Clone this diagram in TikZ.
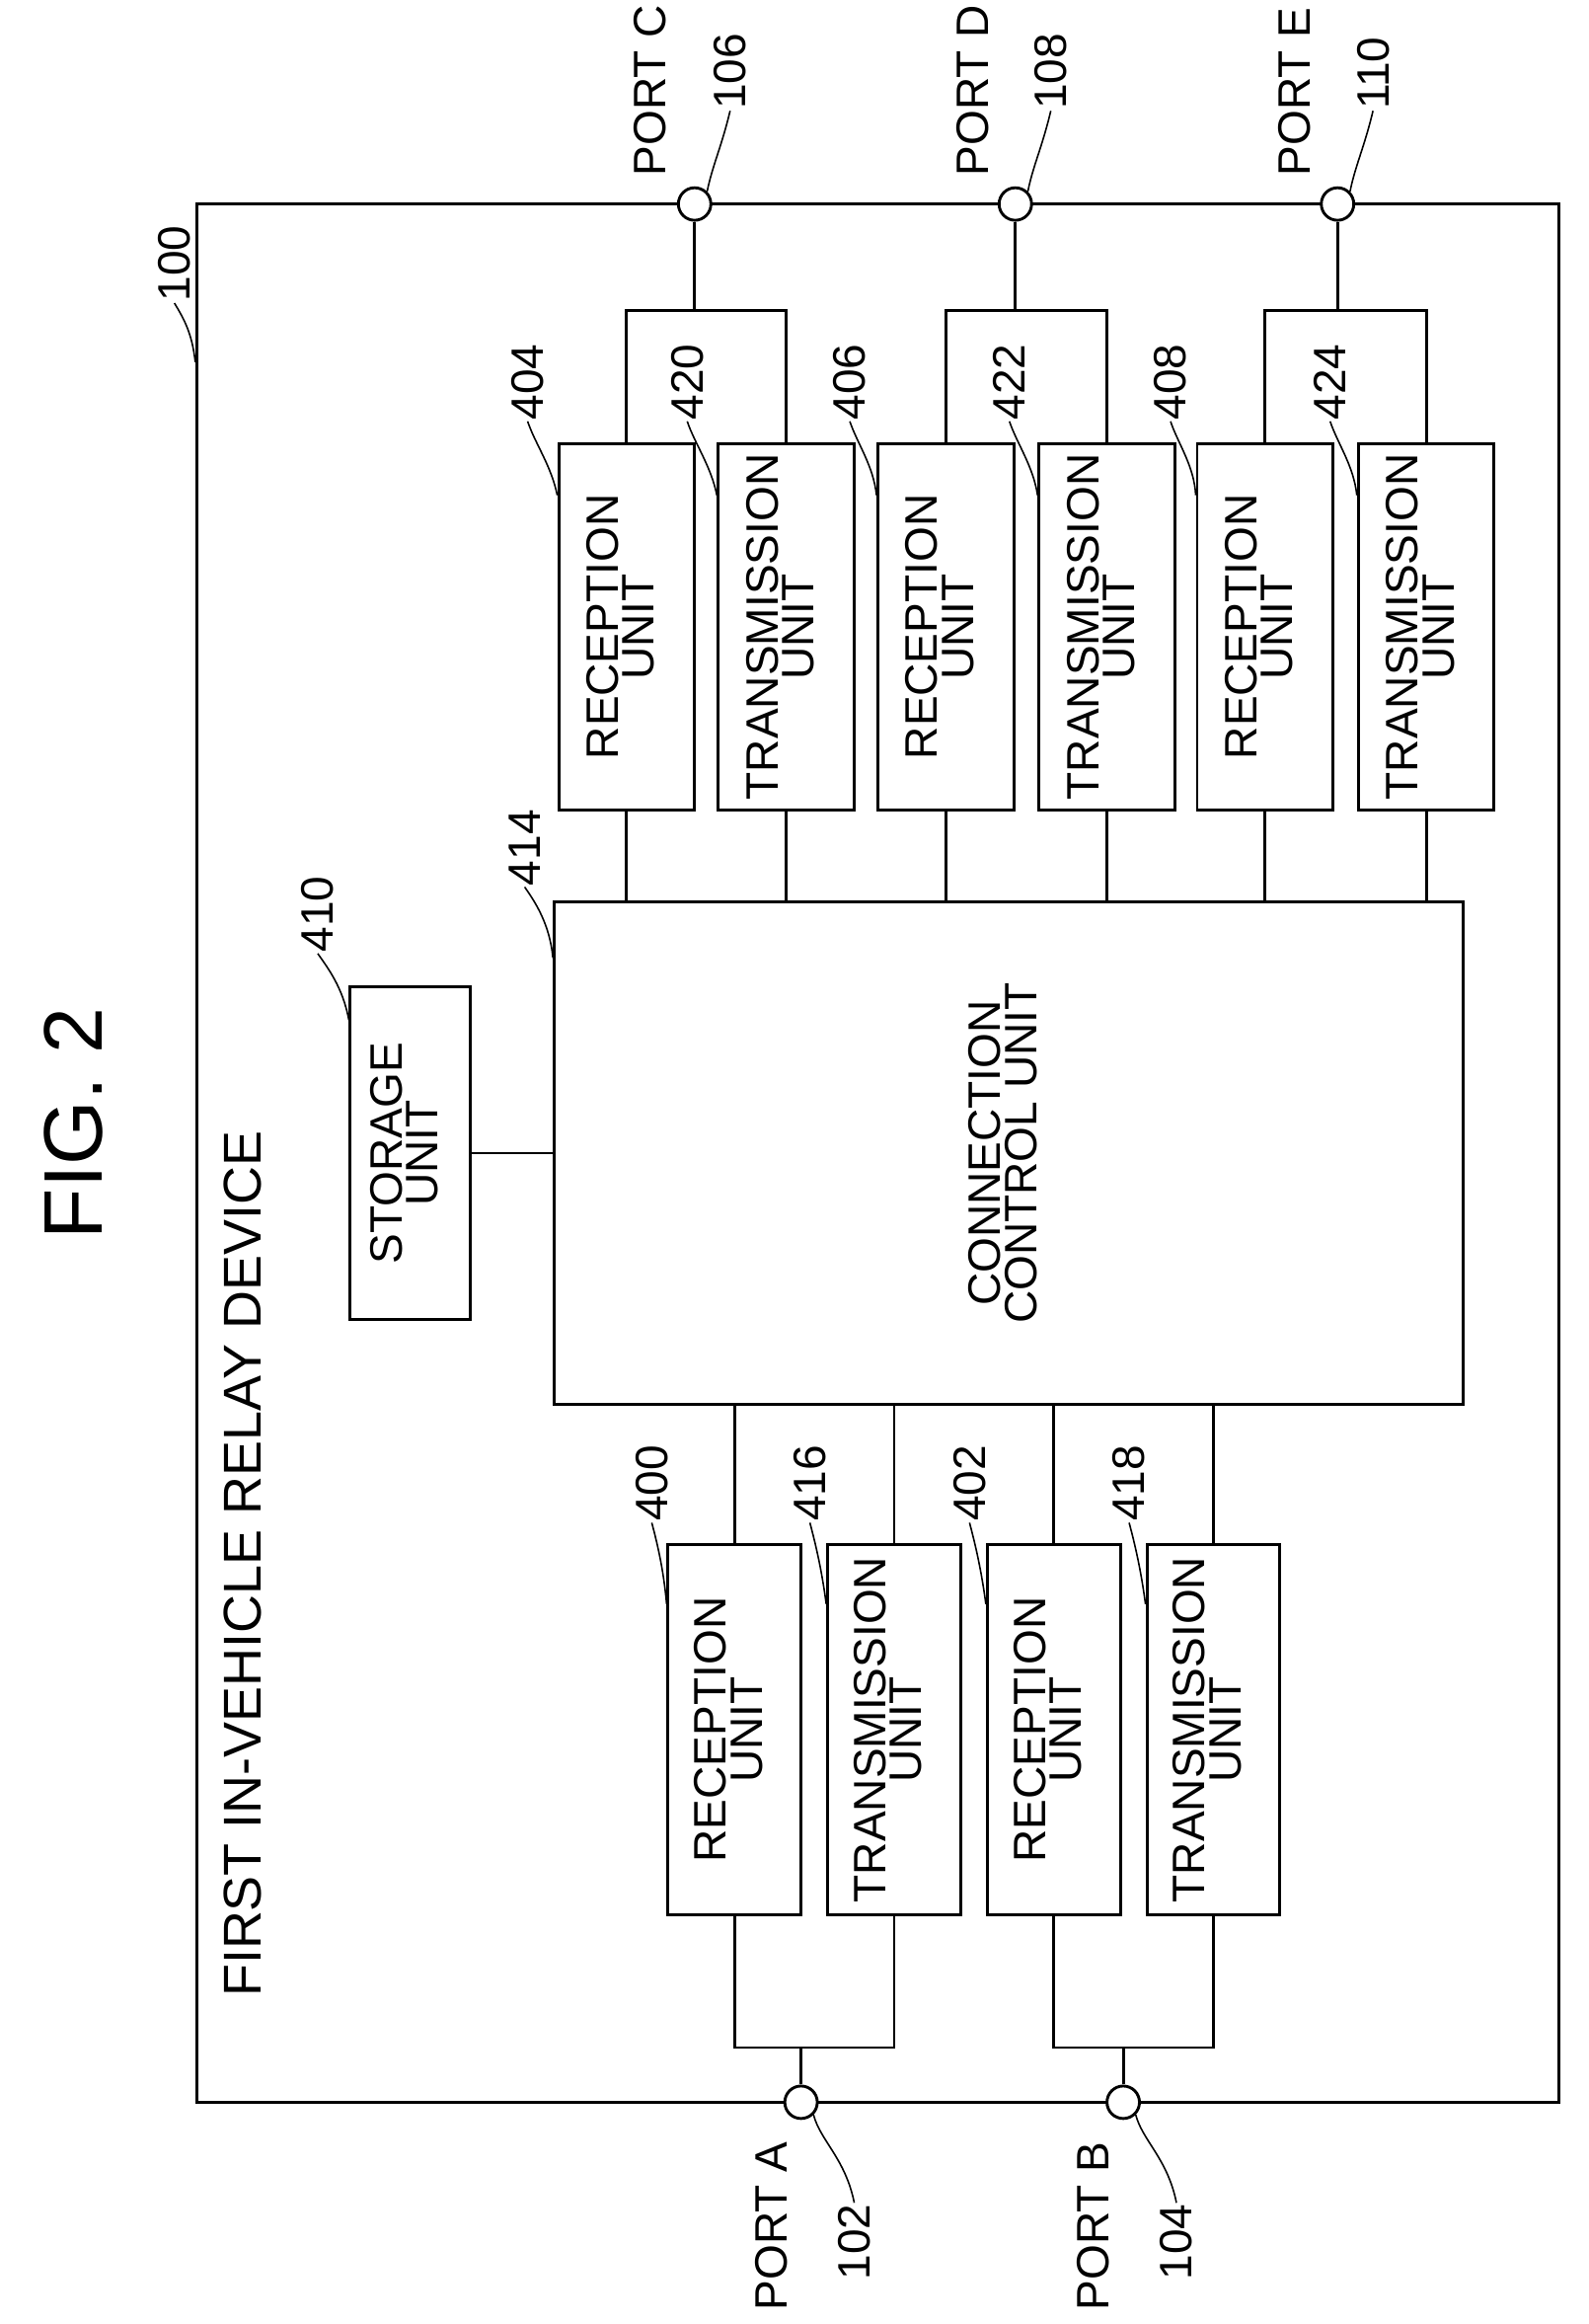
\documentclass[tikz,border=0pt]{standalone}
\usepackage{fontspec}
\setmainfont{Liberation Sans}
\usetikzlibrary{positioning}
\newcommand{\vlab}[2]{\rotatebox{90}{\begin{tabular}{@{}c@{}}#1\\[-3pt]#2\end{tabular}}}
\newcommand{\vnum}[1]{\rotatebox{90}{#1}}
\begin{document}
\begin{tikzpicture}[x=0.02cm,y=-0.02cm,line width=1.1pt,
  font=\fontsize{17.5}{16}\selectfont,
  unit/.style={draw,minimum width=1.84cm,minimum height=4.96cm,inner sep=0pt},
  lunit/.style={draw,minimum width=1.8cm,minimum height=5cm,inner sep=0pt},
  port/.style={draw,circle,fill=white,minimum size=0.44cm,inner sep=0pt},
  refnum/.style={inner sep=0pt,anchor=south},
  leader/.style={line width=0.6pt}]
\useasboundingbox (0,0) rectangle (1075,1572);
% device frame
\node[draw,minimum width=18.44cm,minimum height=25.68cm,inner sep=0pt] (dev) at (594,780) {};
\node[inner sep=0pt] at (50,760) {\fontsize{32}{32}\selectfont\vnum{FIG. 2}};
\node[inner sep=0pt] at (164,1058) {\fontsize{20.5}{20}\selectfont\vnum{FIRST IN-VEHICLE RELAY DEVICE}};
% control and storage
\node[draw,minimum width=12.3cm,minimum height=6.8cm] (ccu) at (682.5,780) {\vlab{CONNECTION}{CONTROL UNIT}};
\node[draw,minimum width=1.62cm,minimum height=4.5cm,inner sep=0pt] (sto) at (277.5,780) {\vlab{STORAGE}{UNIT}};
\draw (sto.east) -- (sto.east -| ccu.west);
% upper units
\node[unit] (r404) at (424,424) {\vlab{RECEPTION}{UNIT}};
\node[unit] (t420) at (532,424) {\vlab{TRANSMISSION}{UNIT}};
\node[unit] (r406) at (640,424) {\vlab{RECEPTION}{UNIT}};
\node[unit] (t422) at (749,424) {\vlab{TRANSMISSION}{UNIT}};
\node[unit] (r408) at (856,424) {\vlab{RECEPTION}{UNIT}};
\node[unit] (t424) at (965,424) {\vlab{TRANSMISSION}{UNIT}};
% lower units
\node[lunit] (r400) at (497,1170) {\vlab{RECEPTION}{UNIT}};
\node[lunit] (t416) at (605,1170) {\vlab{TRANSMISSION}{UNIT}};
\node[lunit] (r402) at (713,1170) {\vlab{RECEPTION}{UNIT}};
\node[lunit] (t418) at (821,1170) {\vlab{TRANSMISSION}{UNIT}};
\foreach \u in {r404,t420,r406,t422,r408,t424}
  \draw (\u.south) -- (\u.south |- ccu.north);
\foreach \u in {r400,t416,r402,t418}
  \draw (\u.north) -- (\u.north |- ccu.south);
% ports
\node[port] (pC) at (470,138) {};
\node[port] (pD) at (687,138) {};
\node[port] (pE) at (905,138) {};
\node[port] (pA) at (542,1422) {};
\node[port] (pB) at (760,1422) {};
\coordinate (bC) at (470,210);
\coordinate (bD) at (687,210);
\coordinate (bE) at (905,210);
\coordinate (bA) at (542,1385);
\coordinate (bB) at (760,1385);
\draw (r404.north) |- (bC) -| (t420.north);
\draw (r406.north) |- (bD) -| (t422.north);
\draw (r408.north) |- (bE) -| (t424.north);
\draw (r400.south) |- (bA) -| (t416.south);
\draw (r402.south) |- (bB) -| (t418.south);
\foreach \p in {C,D,E,A,B}
  \draw (p\p) -- (b\p);
% port labels
\node[refnum] (lC) at (440,120) {\vnum{PORT C}};
\node[refnum] (lD) at (658,120) {\vnum{PORT D}};
\node[refnum] (lE) at (876,120) {\vnum{PORT E}};
\node[refnum] (nC) at (494,75) {\vnum{106}};
\node[refnum] (nD) at (711,75) {\vnum{108}};
\node[refnum] (nE) at (929,75) {\vnum{110}};
\node[refnum,anchor=north] (lA) at (522,1448) {\vnum{PORT A}};
\node[refnum,anchor=north] (lB) at (740,1448) {\vnum{PORT B}};
\node[refnum,anchor=north] (nA) at (578,1490) {\vnum{102}};
\node[refnum,anchor=north] (nB) at (796,1490) {\vnum{104}};
\draw[leader] (pC.north east) .. controls (482,112) and (488,100) .. (nC.south);
\draw[leader] (pD.north east) .. controls (699,112) and (705,100) .. (nD.south);
\draw[leader] (pE.north east) .. controls (917,112) and (923,100) .. (nE.south);
\draw[leader] (pA.south east) .. controls (555,1448) and (572,1460) .. (nA.north);
\draw[leader] (pB.south east) .. controls (773,1448) and (790,1460) .. (nB.north);
% reference numerals
\node[refnum] (n100) at (118,205) {\vnum{100}};
\node[refnum] (n410) at (215,645) {\vnum{410}};
\node[refnum] (n414) at (355,600) {\vnum{414}};
\draw[leader] (n100.south) .. controls (124,215) and (130,225) .. (dev.north west |- 0,245);
\draw[leader] (n410.south) .. controls (222,655) and (232,668) .. (sto.west |- 0,690);
\draw[leader] (n414.south) .. controls (362,610) and (372,625) .. (ccu.west |- 0,648);
\foreach \u/\n/\x in {r404/404/357,t420/420/465,r406/406/575,t422/422/683,r408/408/792,t424/424/900}
  {\node[refnum] (n\n) at (\x,285) {\vnum{\n}};
   \draw[leader] (n\n.south) .. controls (\x+5,300) and (\x+16,315) .. (\u.west |- 0,335);}
\foreach \u/\n/\x in {r400/400/441,t416/416/548,r402/402/656,t418/418/764}
  {\node[refnum] (n\n) at (\x,1030) {\vnum{\n}};
   \draw[leader] (n\n.south) .. controls (\x+4,1045) and (\x+8,1062) .. (\u.west |- 0,1085);}
\end{tikzpicture}
\end{document}
